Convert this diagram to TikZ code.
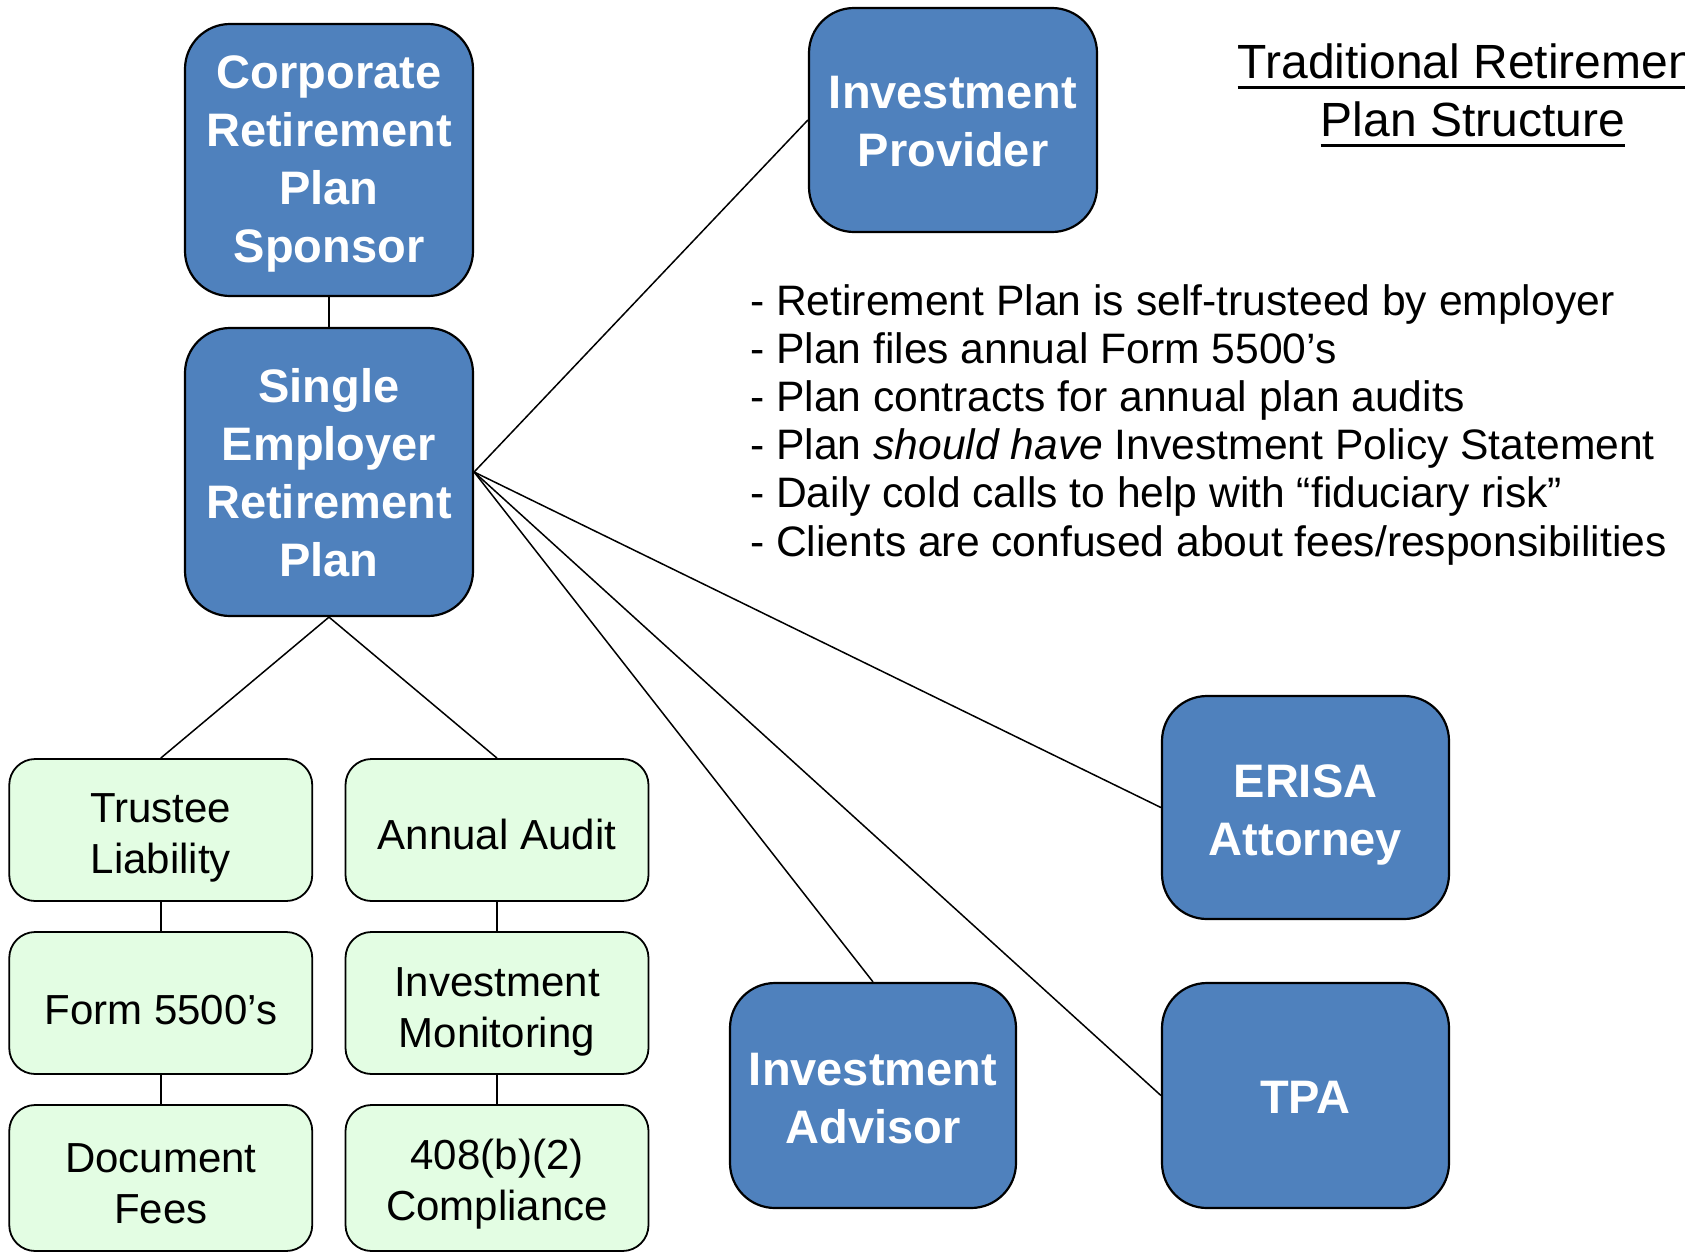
\documentclass[tikz,border=0pt]{standalone}
\usepackage{fontspec}
\setmainfont{Liberation Sans}

\definecolor{planblue}{HTML}{4F81BD}
\definecolor{taskgreen}{HTML}{E3FDE3}

\tikzset{
  partybox/.style={draw=black, line width=2.2pt, fill=planblue, rounded corners=45pt,
    inner sep=0pt},
  partytext/.style={inner sep=0pt, align=center, text=white,
    font=\fontsize{47}{58}\selectfont\bfseries},
  dutybox/.style={draw=black, line width=1.8pt, fill=taskgreen, rounded corners=26pt,
    inner sep=0pt, minimum width=303pt, minimum height=142pt},
  dutytext/.style={inner sep=0pt, align=center, text=black,
    font=\fontsize{42}{51}\selectfont},
  link/.style={draw=black, line width=1.5pt},
  note/.style={anchor=base west, inner sep=0pt, font=\fontsize{42.6}{48}\selectfont},
  heading/.style={anchor=base, inner sep=0pt, font=\fontsize{48}{58}\selectfont},
}

\begin{document}
\begin{tikzpicture}[x=1pt, y=-1pt]
  \useasboundingbox (0,0) rectangle (1685,1253);

  % plan sponsor and plan
  \node[partybox, minimum width=288pt, minimum height=272pt] (corp) at (329,160) {};
  \node[partytext] (corp-txt) at ([yshift=-4pt]corp.center)
    {Corporate\\Retirement\\Plan\\Sponsor};
  \node[partybox, minimum width=288pt, minimum height=288pt] (plan) at (329,472) {};
  \node[partytext] (plan-txt) at ([yshift=-1pt]plan.center)
    {Single\\Employer\\Retirement\\Plan};

  % outside service providers
  \node[partybox, minimum width=288pt, minimum height=224pt] (provider) at (953,120) {};
  \node[partytext] (provider-txt) at ([yshift=-2pt]provider.center) {Investment\\Provider};
  \node[partybox, minimum width=287pt, minimum height=223pt] (erisa) at (1305.5,807.5) {};
  \node[partytext] (erisa-txt) at ([yshift=-7pt]erisa.center) {ERISA\\Attorney};
  \node[partybox, minimum width=287pt, minimum height=225pt] (tpa) at (1305.5,1095.5) {};
  \node[partytext] (tpa-txt) at ([yshift=-2pt]tpa.center) {TPA};
  \node[partybox, minimum width=286pt, minimum height=225pt] (advisor) at (873,1095.5) {};
  \node[partytext] (advisor-txt) at ([yshift=-3pt]advisor.center) {Investment\\Advisor};

  % plan duties
  \node[dutybox] (trustee) at (160.75,830) {};
  \node[dutytext] (trustee-txt) at ([yshift=-8pt]trustee.center) {Trustee\\Liability};
  \node[dutybox] (audit) at (497,830) {};
  \node[dutytext] (audit-txt) at ([yshift=-4pt]audit.center) {Annual Audit};
  \node[dutybox] (form) at (160.75,1003) {};
  \node[dutytext] (form-txt) at ([yshift=-7pt]form.center) {Form 5500’s};
  \node[dutybox] (monitor) at (497,1003) {};
  \node[dutytext] (monitor-txt) at ([yshift=-9pt]monitor.center) {Investment\\Monitoring};
  \node[dutybox, minimum height=146pt] (docs) at (160.75,1178) {};
  \node[dutytext] (docs-txt) at ([yshift=-6pt]docs.center) {Document\\Fees};
  \node[dutybox, minimum height=146pt] (comply) at (497,1178) {};
  \node[dutytext] (comply-txt) at ([yshift=-6pt]comply.center) {408(b)(2)\\Compliance};

  % connectors
  \draw[link] (corp.south) -- (plan.north);
  \draw[link] (plan.south) -- (trustee.north);
  \draw[link] (plan.south) -- (audit.north);
  \draw[link] (trustee.south) -- (form.north);
  \draw[link] (form.south) -- (docs.north);
  \draw[link] (audit.south) -- (monitor.north);
  \draw[link] (monitor.south) -- (comply.north);
  \draw[link] (plan.east) -- (provider.west);
  \draw[link] (plan.east) -- (erisa.west);
  \draw[link] (plan.east) -- (tpa.west);
  \draw[link] (plan.east) -- (advisor.north);

  % heading, running past the right edge
  \node[heading] (h1) at (1473,78) {Traditional Retirement};
  \node[heading] (h2) at (1473,136) {Plan Structure};
  \draw[line width=3pt] ([yshift=-9pt]h1.base west) -- ([yshift=-9pt]h1.base east);
  \draw[line width=3pt] ([yshift=-9pt]h2.base west) -- ([yshift=-9pt]h2.base east);

  % notes
  \node[note] (n1) at (750,315) {- Retirement Plan is self-trusteed by employer};
  \node[note] (n2) at (750,363.2) {- Plan files annual Form 5500’s};
  \node[note] (n3) at (750,411.4) {- Plan contracts for annual plan audits};
  \node[note] (n4) at (750,459.6) {- Plan \textit{should have} Investment Policy Statement};
  \node[note] (n5) at (750,507.8) {- Daily cold calls to help with “fiduciary risk”};
  \node[note] (n6) at (750,556) {- Clients are confused about fees/responsibilities};
\end{tikzpicture}
\end{document}
